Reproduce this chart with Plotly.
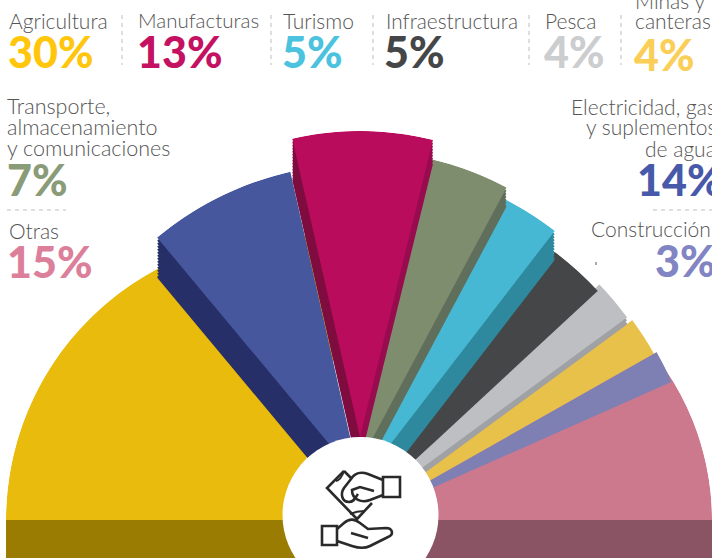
import plotly.graph_objects as go

W, H = 712, 558

# ---- data ----
categories = ["Agricultura", "Electricidad, gas y suplementos de agua", "Manufacturas",
              "Transporte, almacenamiento y comunicaciones", "Turismo", "Infraestructura",
              "Pesca", "Minas y canteras", "Construcción", "Otras"]
values = [30, 14, 13, 7, 5, 5, 4, 4, 3, 15]

# ---- drawing style of each slice (exploded half pie with fake depth) ----
# key: category index; cx, cy: apex in px; rad: px; low: lower angle; gain: degrees per point; depth: px
geometry = {
    9: dict(cx=445, cy=520, rad=267, low=0.0, gain=6.667, color="#CC788D", core=dict(cx=360, cy=520, rad=130, high=30)),
    8: dict(cx=360, cy=520, rad=341, low=23.9, gain=1.867, color="#7E80B4"),
    7: dict(cx=360, cy=520, rad=338, low=29.5, gain=1.7, color="#E8C14B"),
    6: dict(cx=358, cy=515, rad=334, low=36.3, gain=1.85, color="#BDBFC2", depth=7, side="#9FA1A5"),
    5: dict(cx=358, cy=513, rad=327, low=42.8, gain=2.04, color="#454648"),
    4: dict(cx=359, cy=485, rad=321, low=52.4, gain=2.72, color="#47B8D3", depth=29, side="#2F899E"),
    3: dict(cx=361, cy=460, rad=309, low=61.9, gain=2.586, color="#7F8D6F", depth=19, side="#5F6F5C"),
    0: dict(cx=290, cy=520, rad=284, low=75.0, gain=3.5, color="#E9BB0D"),
    1: dict(cx=360, cy=481, rad=317, low=102.7, gain=1.936, color="#46579D", depth=40, side="#262F67"),
    2: dict(cx=360, cy=437, rad=306, low=76.2, gain=2.046, color="#B90C5C"),
}
draw_order = [9, 8, 7, 6, 5, 4, 3, 0, 1, 2]
magenta_left = dict(depth=41, color="#7E0C3F")
magenta_right = dict(depth=24, color="#980B4F")
STEP = 3

fig = go.Figure()
polars = {}


def wedge(cx, cy, rad, low, high, color):
    n = len(polars) + 1
    name = "polar" if n == 1 else f"polar{n}"
    polars[name] = dict(
        domain=dict(x=[max(0, (cx - rad) / W), min(1, (cx + rad) / W)],
                    y=[max(0, (H - cy) / H), min(1, (H - cy + rad) / H)]),
        sector=[0, 180],
        bgcolor="rgba(0,0,0,0)",
        radialaxis=dict(visible=False, range=[0, rad]),
        angularaxis=dict(visible=False),
    )
    fig.add_trace(go.Barpolar(r=[rad], theta=[(low + high) / 2], width=[high - low],
                              marker=dict(color=color, line=dict(width=0)),
                              subplot=name, showlegend=False, hoverinfo="skip"))


def steps(total):
    return sorted(set(list(range(STEP, total, STEP)) + [total]))


for i in draw_order:
    g = geometry[i]
    high = g["low"] + values[i] * g["gain"]
    if "core" in g:
        c = g["core"]
        wedge(c["cx"], c["cy"], c["rad"], g["low"], c["high"], g["color"])
    if i == 2:
        for d in steps(magenta_left["depth"]):
            wedge(g["cx"], g["cy"] + d, g["rad"], 90, high, magenta_left["color"])
        for d in steps(magenta_right["depth"]):
            wedge(g["cx"], g["cy"] + d, g["rad"], g["low"], 90, magenta_right["color"])
    elif "depth" in g:
        for d in steps(g["depth"]):
            wedge(g["cx"], g["cy"] + d, g["rad"], g["low"], high, g["side"])
    wedge(g["cx"], g["cy"], g["rad"], g["low"], high, g["color"])


# ---- helpers in page pixels ----
def X(x):
    return x / W


def Y(y):
    return 1 - y / H


def path(cmds, closed=False):
    out = []
    for c in cmds:
        out.append(c[0] + " ".join(f"{X(c[k])},{Y(c[k + 1])}" for k in range(1, len(c), 2)))
    return " ".join(out) + (" Z" if closed else "")


shapes = []


def rect(x0, y0, x1, y1, color):
    shapes.append(dict(type="rect", xref="paper", yref="paper", x0=X(x0), x1=X(x1), y0=Y(y0), y1=Y(y1),
                       fillcolor=color, line=dict(width=0), layer="above"))


def dash(x0, y0, x1, y1):
    shapes.append(dict(type="line", xref="paper", yref="paper", x0=X(x0), x1=X(x1), y0=Y(y0), y1=Y(y1),
                       line=dict(color="#BDBDBD", width=1, dash="4px,4px"), layer="above"))


def stroke(cmds, closed=False, width=2.6):
    shapes.append(dict(type="path", xref="paper", yref="paper", path=path(cmds, closed),
                       line=dict(color="#2A2A2A", width=width), fillcolor="rgba(0,0,0,0)", layer="above"))


# lower front faces
rect(6, 520, 360, 558, "#9A7C03")
rect(360, 520, 712, 558, "#8A5465")
# central white disc
shapes.append(dict(type="circle", xref="paper", yref="paper", x0=X(282.5), x1=X(438.5), y0=Y(437), y1=Y(593),
                   fillcolor="white", line=dict(width=0), layer="above"))

# icon: banknote
stroke([("M", 344, 471), ("L", 327, 488), ("L", 357, 519), ("L", 372, 503)])
stroke([("M", 344, 471), ("L", 351, 478)])
stroke([("M", 336, 481), ("Q", 341, 480, 344, 471)], width=2)
stroke([("M", 350, 514), ("Q", 357, 511, 364, 511)], width=2)
# icon: upper hand
stroke([("M", 383, 480), ("L", 368, 474), ("C", 360, 471, 354, 474, 351, 479), ("L", 344, 488),
        ("C", 340, 494, 342, 502, 349, 502), ("C", 354, 502, 355, 498, 358, 494)])
stroke([("M", 383, 495), ("L", 370, 500), ("C", 362, 503, 352, 500, 352, 490), ("L", 360, 487), ("L", 374, 491)])
stroke([("M", 383, 477), ("L", 400, 477), ("L", 400, 497), ("L", 383, 497)], closed=True)
# icon: lower hand
stroke([("M", 337, 529), ("L", 344, 523), ("C", 350, 518, 354, 519, 360, 523), ("L", 368, 529),
        ("L", 386, 528), ("C", 393, 528, 394, 535, 388, 537), ("L", 370, 546), ("C", 364, 549, 358, 548, 352, 546),
        ("L", 337, 541)])
stroke([("M", 351, 533), ("L", 368, 538)])
stroke([("M", 322, 526), ("L", 337, 526), ("L", 337, 545), ("L", 322, 545)], closed=True)

# separators
for x in [122, 271, 373, 529, 621]:
    dash(x, 15, x, 65)
dash(7, 210, 66, 210)
dash(653, 210, 712, 210)
rect(595, 262, 597, 265, "#AAAAAA")

# ---- texts ----
annotations = []


def text(x, y, s, size, color, anchor="left", weight=300):
    annotations.append(dict(xref="paper", yref="paper", x=X(x), y=Y(y), text=s,
                            showarrow=False, xanchor=anchor, yanchor="middle", align=anchor,
                            font=dict(family="Lato", size=size, color=color, weight=weight),
                            borderpad=0, borderwidth=0))


GREY = "#555555"
PCT = 43
labels_left = [
    (9, 20, "Agricultura", 21), (138, 20, "Manufacturas", 20.5), (283, 20, "Turismo", 21),
    (386, 20, "Infraestructura", 20.8), (545, 20, "Pesca", 21), (635, 0, "Minas y", 21), (635, 20, "canteras", 21),
    (7, 106, "Transporte,", 21.5), (7, 127, "almacenamiento", 21.5), (7, 148, "y comunicaciones", 21.5),
    (9, 230, "Otras", 21),
]
for x, y, s, fs in labels_left:
    text(x, y, s, fs, GREY)
for y, s in [(106, "Electricidad, gas"), (127, "y suplementos"), (148, "de agua")]:
    text(716, y, s, 21, GREY, "right")
text(711, 228, "Construcción", 21, GREY, "right")

pct_pos = [
    (0, 8, 51, "#FFC60B"), (2, 137, 51, "#C41162"), (4, 282, 51, "#4BC2DE"), (5, 384, 51, "#454648"),
    (6, 544, 51, "#CCCDCF"), (7, 634, 54, "#FBCF57"), (3, 7, 180, "#8A9B78"), (9, 7, 261, "#DC7F9B"),
    (1, 637, 180, "#4759A8"), (8, 655, 260, "#8185C3"),
]
for i, x, y, c in pct_pos:
    text(x, y, f"{values[i]}%", PCT, c, weight=900)

fig.update_layout(width=W, height=H, margin=dict(l=0, r=0, t=0, b=0), paper_bgcolor="white",
                  plot_bgcolor="white", template="none", showlegend=False,
                  shapes=shapes, annotations=annotations, **polars)
fig.write_html("out.html", config=dict(displayModeBar=False),
               post_script="document.body.style.margin='0';document.documentElement.style.overflow='hidden';")
